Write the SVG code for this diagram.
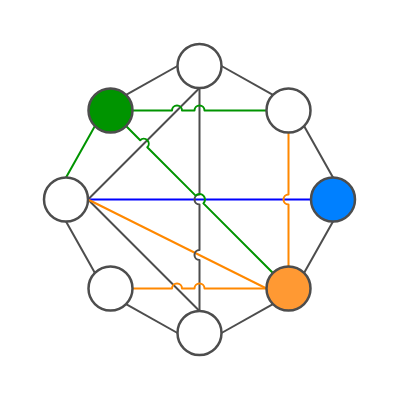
<svg xmlns="http://www.w3.org/2000/svg" width="400" height="400" viewBox="0 0 400 400">
<style>
.e{fill:none;stroke-width:2;stroke-linejoin:round}
.g{stroke:#4d4d4d}
.gr{stroke:#009400}
.bl{stroke:#0000ff}
.or{stroke:#ff8800}
.n{stroke:#4d4d4d;stroke-width:2.5}
</style>
<rect width="400" height="400" fill="#ffffff"/>
<g id="connectors">
<path class="e g" d="M177.5 66L126.06 94.94"/>
<path class="e g" d="M221.5 66L272.94 94.94"/>
<path class="e g" d="M304.06 126.06L333 177.5"/>
<path class="e g" d="M333 221.5L304.06 272.94"/>
<path class="e g" d="M272.94 304.06L221.5 333"/>
<path class="e g" d="M177.5 333L126.06 304.06"/>
<path class="e g" d="M94.94 272.94L66 221.5"/>
<path class="e gr" d="M66 177.5L94.94 126.06"/>
<path class="e g" d="M88 199.5L199.5 88"/>
<path class="e g" d="M88 199.5L199.5 311"/>
<path class="e bl" d="M88 199.5L311 199.5"/>
<path class="e or" d="M88 199.5L266.5 288.5"/>
<path class="e g" d="M199.5 311L199.5 260.1A5 5 0 0 1 199.5 250.1L199.5 204.5A5 5 0 0 1 199.5 194.5L199.5 88"/>
<path class="e gr" d="M132.5 110.5L172 110.5A5 5 0 0 1 182 110.5L194.5 110.5A5 5 0 0 1 204.5 110.5L266.5 110.5"/>
<path class="e gr" d="M126.06 126.06L140.21 140.21A5 5 0 0 1 147.29 147.29L195.61 195.61A5.5 5.5 0 0 1 203.39 203.39L272.94 272.94"/>
<path class="e or" d="M288.5 266.5L288.5 204.5A5 5 0 0 1 288.5 194.5L288.5 132.5"/>
<path class="e or" d="M132.5 288.5L172 288.5A5 5 0 0 1 182 288.5L194.5 288.5A5 5 0 0 1 204.5 288.5L266.5 288.5"/>
</g>
<g id="node-top"><circle class="n" cx="199.5" cy="66" r="22" fill="#ffffff"/></g>
<g id="node-top-left"><circle class="n" cx="110.5" cy="110.5" r="22" fill="#009400"/></g>
<g id="node-top-right"><circle class="n" cx="288.5" cy="110.5" r="22" fill="#ffffff"/></g>
<g id="node-left"><circle class="n" cx="66" cy="199.5" r="22" fill="#ffffff"/></g>
<g id="node-right"><circle class="n" cx="333" cy="199.5" r="22" fill="#0080ff"/></g>
<g id="node-bottom-left"><circle class="n" cx="110.5" cy="288.5" r="22" fill="#ffffff"/></g>
<g id="node-bottom-right"><circle class="n" cx="288.5" cy="288.5" r="22" fill="#ff9933"/></g>
<g id="node-bottom"><circle class="n" cx="199.5" cy="333" r="22" fill="#ffffff"/></g>
</svg>
